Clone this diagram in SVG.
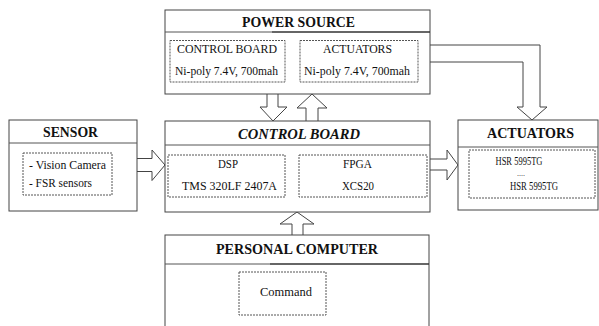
<svg xmlns="http://www.w3.org/2000/svg" width="599" height="326" viewBox="0 0 599 326">
<style>
.box{fill:#fff;stroke:#444;stroke-width:1}
.sep{stroke:#555;stroke-width:1}
.sepd{stroke:#333;stroke-width:1.6}
.inner{fill:none;stroke:#555;stroke-width:1;stroke-dasharray:2,1}
.arrow{fill:#fff;stroke:#444;stroke-width:1}
.t{font-family:"Liberation Serif","Times New Roman",serif;fill:#111;text-anchor:middle}
.title{font-size:14px;font-weight:bold}
.it{font-style:italic}
.s{font-size:11.5px}
</style>
<defs>
<marker id="ah" markerWidth="6" markerHeight="6" refX="5.5" refY="3" orient="auto" markerUnits="userSpaceOnUse">
<path d="M0,0 L6,3 L0,6 Z" fill="#111"/>
</marker>
</defs>
<rect width="599" height="326" fill="#fff"/>

<g id="connectors">
<path class="arrow" d="M430,45 H540 V107 H547 L532,120 L517,107 H523 V62 H430"/>
<path class="arrow" d="M267,94 V107 H260 L273,121 L287,107 H278 V94"/>
<path class="arrow" d="M306,121 V108 H297 L312,94 L327,108 H318 V121"/>
<path class="arrow" d="M137,158.5 H152 V150 L165,165 L152,180.5 V171.5 H137"/>
<path class="arrow" d="M430,159 H447 V150 L458,165 L447,180 V170 H430"/>
<path class="arrow" d="M292,235 V224 H280 L297,212 L314,224 H303 V235"/>
<line x1="285" y1="177" x2="299" y2="177" stroke="#222" stroke-width="1" marker-end="url(#ah)"/>
</g>

<g id="power-source">
<rect class="box" x="165" y="10" width="265" height="84"/>
<line class="sep" x1="165" y1="32" x2="272" y2="32"/>
<line class="sepd" x1="272" y1="32" x2="430" y2="32"/>
<text class="t title" x="298.5" y="27" textLength="113" lengthAdjust="spacingAndGlyphs">POWER SOURCE</text>
<rect class="inner" x="170" y="40.5" width="115" height="41.5"/>
<text class="t s" x="227" y="53" textLength="100" lengthAdjust="spacingAndGlyphs">CONTROL BOARD</text>
<text class="t s" x="226.5" y="75" textLength="103" lengthAdjust="spacingAndGlyphs">Ni-poly 7.4V, 700mah</text>
<rect class="inner" x="300" y="40.5" width="118" height="41.5"/>
<text class="t s" x="357.5" y="53" textLength="69" lengthAdjust="spacingAndGlyphs">ACTUATORS</text>
<text class="t s" x="357" y="75" textLength="106" lengthAdjust="spacingAndGlyphs">Ni-poly 7.4V, 700mah</text>
</g>

<g id="sensor">
<rect class="box" x="9" y="120" width="128" height="91"/>
<line class="sep" x1="9" y1="143" x2="137" y2="143"/>
<text class="t title" x="70.5" y="137" textLength="55" lengthAdjust="spacingAndGlyphs">SENSOR</text>
<rect class="inner" x="23" y="153" width="89" height="42"/>
<text class="t s" x="29" y="169" style="text-anchor:start" textLength="77" lengthAdjust="spacingAndGlyphs">- Vision Camera</text>
<text class="t s" x="29" y="187" style="text-anchor:start" textLength="63" lengthAdjust="spacingAndGlyphs">- FSR sensors</text>
</g>

<g id="control-board">
<rect class="box" x="165" y="121" width="265" height="91"/>
<line class="sep" x1="165" y1="145" x2="430" y2="145"/>
<text class="t title it" x="299" y="139" textLength="122" lengthAdjust="spacingAndGlyphs">CONTROL BOARD</text>
<rect class="inner" x="168" y="155" width="117" height="42"/>
<text class="t s" x="228" y="168" textLength="20" lengthAdjust="spacingAndGlyphs">DSP</text>
<text class="t s" x="229.5" y="190" textLength="95" lengthAdjust="spacingAndGlyphs">TMS 320LF 2407A</text>
<rect class="inner" x="299" y="155" width="128" height="42"/>
<text class="t s" x="357.5" y="168" textLength="29" lengthAdjust="spacingAndGlyphs">FPGA</text>
<text class="t s" x="358" y="190" textLength="32" lengthAdjust="spacingAndGlyphs">XCS20</text>
</g>

<g id="actuators">
<rect class="box" x="458" y="120" width="140" height="90"/>
<line class="sep" x1="458" y1="147" x2="598" y2="147"/>
<text class="t title" x="530.5" y="138" textLength="87" lengthAdjust="spacingAndGlyphs">ACTUATORS</text>
<rect class="inner" x="469" y="150" width="126" height="48"/>
<text class="t" x="519" y="164.5" font-size="12.5" textLength="47" lengthAdjust="spacingAndGlyphs">HSR 5995TG</text>
<text class="t" x="521" y="176" font-size="8">....</text>
<text class="t" x="534" y="189.5" font-size="12.5" textLength="48" lengthAdjust="spacingAndGlyphs">HSR 5995TG</text>
</g>

<g id="personal-computer">
<rect class="box" x="165" y="235" width="264" height="100"/>
<line class="sep" x1="165" y1="264" x2="270" y2="264"/>
<line class="sepd" x1="270" y1="264" x2="429" y2="264"/>
<text class="t title" x="297" y="254" textLength="162" lengthAdjust="spacingAndGlyphs">PERSONAL COMPUTER</text>
<rect class="inner" x="239" y="272" width="87" height="43"/>
<text class="t s" x="286" y="296" textLength="52" lengthAdjust="spacingAndGlyphs">Command</text>
</g>
</svg>
